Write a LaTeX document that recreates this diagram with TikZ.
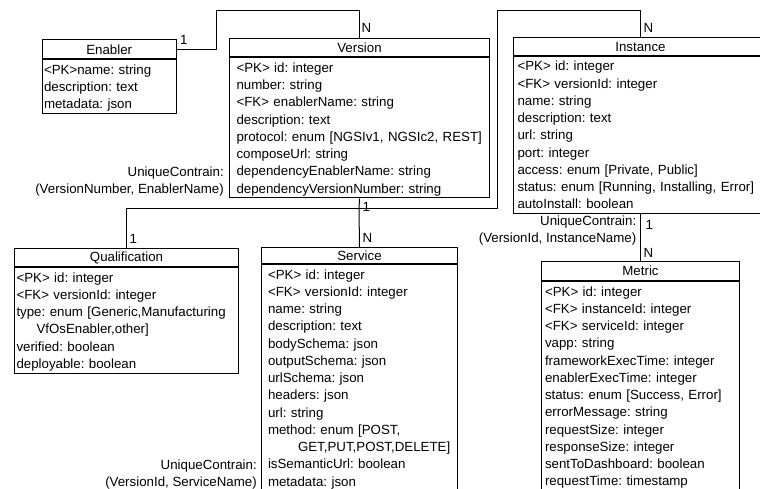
\documentclass[tikz,border=0pt]{standalone}
\usepackage{fontspec}
\setmainfont{Liberation Sans}
\usetikzlibrary{positioning}

\frenchspacing
\newcommand{\rowfont}{\fontsize{13.3}{17.25}\selectfont}
\newcommand{\rowstrut}{\rule[-3.75pt]{0pt}{17.25pt}}

\begin{document}
\begin{tikzpicture}[
    x=1pt, y=-1pt,
    entity/.style={rectangle, draw, line width=1pt, anchor=north west, inner sep=0pt, font=\rowfont},
    attrs/.style={rectangle, draw, line width=1pt, anchor=north west, align=left, inner ysep=1pt, font=\rowfont,
        execute at begin node=\rowstrut, execute at end node=\rowstrut},
    link/.style={line width=1pt},
    mult/.style={font=\rowfont, inner sep=0pt, anchor=base west},
    unique/.style={font=\rowfont, align=right, inner xsep=0pt, inner ysep=1pt,
        execute at begin node=\rowstrut, execute at end node=\rowstrut}
]
    \useasboundingbox (0,0) rectangle (760,489);

    % Entities
    \node[entity, minimum width=134.5pt, minimum height=19.5pt] (enabler) at (41.5,39) {Enabler};
    \node[attrs, text width=130.5pt, inner xsep=2pt] (enablerattr) at (enabler.south west)
        {<PK>name: string\\ description: text\\ metadata: json};

    \node[entity, minimum width=260pt, minimum height=18pt] (version) at (229,38.5) {Version};
    \node[attrs, text width=246pt, inner xsep=7pt] (versionattr) at (version.south west)
        {<PK> id: integer\\ number: string\\ <FK> enablerName: string\\ description: text\\
         protocol: enum [NGSIv1, NGSIc2, REST]\\ composeUrl: string\\
         dependencyEnablerName: string\\ dependencyVersionNumber: string};

    \node[entity, minimum width=254pt, minimum height=18pt] (instance) at (513,37) {Instance};
    \node[attrs, text width=246pt, inner xsep=4pt] (instanceattr) at (instance.south west)
        {<PK> id: integer\\ <FK> versionId: integer\\ name: string\\ description: text\\
         url: string\\ port: integer\\ access: enum [Private, Public]\\
         status: enum [Running, Installing, Error]\\ autoInstall: boolean};

    \node[entity, minimum width=224pt, minimum height=18pt] (qualification) at (14,248) {Qualification};
    \node[attrs, text width=220pt, inner xsep=2pt] (qualificationattr) at (qualification.south west)
        {<PK> id: integer\\ <FK> versionId: integer\\ type: enum [Generic,Manufacturing\\
         \hspace*{20pt}VfOsEnabler,other]\\ verified: boolean\\ deployable: boolean};

    \node[entity, minimum width=196pt, minimum height=16pt] (service) at (261,247) {Service};
    \node[attrs, text width=183pt, inner xsep=6.5pt] (serviceattr) at (service.south west)
        {<PK> id: integer\\ <FK> versionId: integer\\ name: string\\ description: text\\
         bodySchema: json\\ outputSchema: json\\ urlSchema: json\\ headers: json\\ url: string\\
         method: enum [POST,\\ \hspace*{30pt}GET,PUT,POST,DELETE]\\ isSemanticUrl: boolean\\
         metadata: json};

    \node[entity, minimum width=198pt, minimum height=19pt] (metric) at (541,261) {Metric};
    \node[attrs, text width=191pt, inner xsep=3.5pt] (metricattr) at (metric.south west)
        {<PK> id: integer\\ <FK> instanceId: integer\\ <FK> serviceId: integer\\ vapp: string\\
         frameworkExecTime: integer\\ enablerExecTime: integer\\ status: enum [Success, Error]\\
         errorMessage: string\\ requestSize: integer\\ responseSize: integer\\
         sentToDashboard: boolean\\ requestTime: timestamp};

    % Unique constraints
    \node[unique, anchor=south east] (versionkey) at ([xshift=-5pt]versionattr.south west)
        {UniqueContrain:\\(VersionNumber, EnablerName)};
    \node[unique, anchor=south east] (servicekey) at ([xshift=-4pt]serviceattr.south west)
        {UniqueContrain:\\(VersionId, ServiceName)};
    \node[unique, anchor=north east] (instancekey) at ([xshift=-4pt]instanceattr.south)
        {UniqueContrain:\\(VersionId, InstanceName)};

    % Connectors
    \coordinate (enablerbend) at (216,11);
    \coordinate (versionfork) at (359,209);
    \coordinate (instancebend) at (497,11);

    \draw[link] (enabler.east) -| (enablerbend) -| (version.north);
    \draw[link] (versionattr.south) -- (versionfork);
    \draw[link] (versionfork) -| (qualification.north);
    \draw[link] (versionfork) -| (instancebend) -| (instance.north);
    \draw[link] (versionfork) -- (service.north);
    \draw[link] (instanceattr.south) -- (metric.north);

    % Multiplicities
    \node[mult] (enablerone) at ([xshift=3pt,yshift=4.5pt]enabler.east) {1};
    \node[mult] (versionn) at ([xshift=2pt,yshift=5.5pt]version.north) {N};
    \node[mult] (versionone) at ([xshift=3pt,yshift=-13pt]versionattr.south) {1};
    \node[mult] (servicen) at ([xshift=3pt,yshift=4.5pt]service.north) {N};
    \node[mult] (qualificationone) at ([xshift=3pt,yshift=4.5pt]qualification.north) {1};
    \node[mult] (instancen) at ([xshift=3pt,yshift=4.5pt]instance.north) {N};
    \node[mult] (instanceone) at ([xshift=5pt,yshift=-15pt]instanceattr.south) {1};
    \node[mult] (metricn) at ([xshift=3pt,yshift=4pt]metric.north) {N};
\end{tikzpicture}
\end{document}
